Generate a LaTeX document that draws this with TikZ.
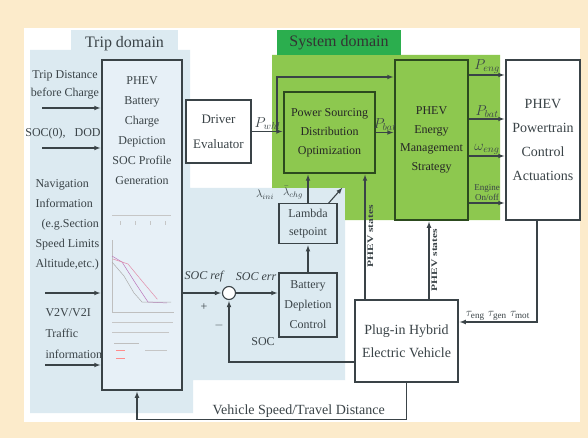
\documentclass[tikz,border=0pt]{standalone}
\usepackage{fontspec}
\setmainfont{Liberation Serif}
\usepackage{amsmath}
\usetikzlibrary{positioning, arrows}
\definecolor{bgbeige}{HTML}{FCEBCB}
\definecolor{tripblue}{HTML}{DCEAF1}
\definecolor{profblue}{HTML}{E7F0F7}
\definecolor{sysgreen}{HTML}{8DC84F}
\definecolor{tabgreen}{HTML}{2BAE4E}
\definecolor{boxline}{HTML}{3A4347}
\definecolor{gline}{HTML}{2C4A1E}

\begin{document}
\begin{tikzpicture}[x=1pt, y=-1pt, >=latex, shorten >=1pt, node distance=28pt,
  line width=1.1pt, color=boxline,
  box/.style={draw=boxline, fill=white, line width=1.3pt, align=center, inner sep=1pt},
  gbox/.style={box, draw=gline, fill=sysgreen, text=black!85},
  bbox/.style={box, fill=tripblue},
  txt/.style={align=center, inner sep=1pt, font=\fontsize{12}{20}\selectfont},
  sig/.style={inner sep=1.5pt, font=\fontsize{12}{14}\selectfont},
  sym/.style={inner sep=1pt, font=\fontsize{14}{16}\selectfont},
  tab/.style={inner sep=0pt, font=\fontsize{16}{18}\selectfont},
  states/.style={rotate=90, anchor=north, inner sep=2pt, font=\bfseries\fontsize{8.5}{10}\selectfont},
  sumpt/.style={circle, draw=boxline, fill=white, line width=1.1pt, minimum size=13pt, inner sep=0pt},
  sketch/.style={line width=0.5pt}]
  \useasboundingbox (0,0) rectangle (588,438);
  % backgrounds
  \fill[bgbeige] (0,0) rectangle (588,438);
  \fill[white] (24,28) rectangle (580,422);
  \fill[tripblue] (30,50) -- (190,50) -- (190,188) -- (345,188) -- (345,380)
    -- (193,380) -- (193,413) -- (30,413) -- cycle;
  \fill[sysgreen] (272,55) -- (500,55) -- (500,220) -- (345,220) -- (345,188)
    -- (272,188) -- cycle;
  \node[tab, fill=tripblue, minimum width=107pt, minimum height=28pt] (triptab) at (124.5,44) {Trip domain};
  \node[tab, fill=tabgreen, minimum width=124pt, minimum height=25pt, text=black!80] (systab) at (339,42.5) {System domain};

  % blocks
  \node[box, fill=profblue, minimum width=80pt, minimum height=330pt] (profile) at (142,225) {};
  \node[txt] (proftext) at (142,131) {PHEV\\Battery\\Charge\\Depiction\\SOC Profile\\Generation};
  \node[box, minimum width=65pt, minimum height=63pt, font=\fontsize{13}{25}\selectfont] (driver) at (218.5,131.5) {Driver\\Evaluator};
  \node[gbox, minimum width=91pt, minimum height=81pt, font=\fontsize{12}{19}\selectfont] (pso) at (329.5,132.5) {Power Sourcing\\Distribution\\Optimization};
  \node[gbox, minimum width=73pt, minimum height=160pt, font=\fontsize{12}{18.5}\selectfont] (ems) at (431.5,140) {PHEV\\Energy\\Management\\Strategy};
  \node[box, minimum width=74pt, minimum height=160pt, font=\fontsize{14}{24}\selectfont] (pt) at (543,140) {PHEV\\Powertrain\\Control\\Actuations};
  \node[bbox, minimum width=58pt, minimum height=64pt, font=\fontsize{12}{20}\selectfont] (bdc) at (308,305) {Battery\\Depletion\\Control};
  \node[bbox, minimum width=58pt, minimum height=40pt, font=\fontsize{12}{18}\selectfont, above=of bdc] (lambda) {Lambda\\setpoint};
  \node[box, minimum width=103pt, minimum height=82pt, font=\fontsize{14}{23}\selectfont] (plugin) at (406.5,341) {Plug-in Hybrid\\Electric Vehicle};
  \node[sumpt] (sum) at (229,293) {};

  % small SOC profile sketch inside the generator block
  \draw[sketch, gray!45] (112,215) -- (172,215);
  \foreach \x in {120,135,150,165} \draw[sketch, gray!45] (\x,221) -- (\x,226);
  \draw[sketch, gray!50] (112,240) -- (112,312) -- (175,312);
  \draw[sketch, violet!55] (112,256) -- (122,262) -- (136,284) -- (148,302) -- (168,303);
  \draw[sketch, purple!45] (113,259) -- (128,264) -- (142,281) -- (158,300);
  \draw[sketch, gray!65] (112,262) -- (124,276) -- (134,293) -- (142,302) -- (172,302);
  \draw[sketch, gray!45] (112,322) -- (174,322);
  \draw[sketch, gray!45] (112,332) -- (170,332);
  \draw[sketch, gray!50] (114,343) -- (140,343);
  \draw[sketch, red!45] (116,350) -- (126,350);
  \draw[sketch, red!45] (116,358) -- (126,358);
  \draw[sketch, gray!45] (145,350) -- (168,350);

  % inputs of the trip domain
  \node[txt, font=\fontsize{12}{18}\selectfont] (tripdist) at (65,85) {Trip Distance\\before Charge};
  \node[txt] (soczero) at (63,134) {SOC(0),\hspace{9pt}DOD};
  \node[txt, align=left, anchor=west] (navinfo) at (34,225) {Navigation\\Information\\\hspace*{6pt}(e.g.Section\\Speed Limits\\Altitude,etc.)};
  \node[txt, align=left, anchor=west, font=\fontsize{12}{21}\selectfont] (v2v) at (44,334) {V2V/V2I\\Traffic\\information};
  \coordinate (in1) at (42,108);
  \coordinate (in2) at (42,148);
  \coordinate (in3) at (45,293);
  \coordinate (in4) at (45,365);

  \path[->]
    (in1) edge (in1 -| profile.west)
    (in2) edge (in2 -| profile.west)
    (in3) edge (in3 -| profile.west)
    (in4) edge (in4 -| profile.west)
    (driver.east) edge node[above, sym] (pwhl) {$P_{whl}$} (driver.east -| pso.west)
    (pso.east) edge node[above, sym] (pbatin) {$P_{bat}$} (pso.east -| ems.west)
    (profile.east |- sum) edge (sum)
    (sum) edge (sum -| bdc.west)
    (bdc.north) edge (lambda.south)
    (lambda.north) edge (lambda.north |- pso.south)
    ([yshift=65pt]ems.east) edge node[above, sym] (peng) {$P_{eng}$} ([yshift=65pt]ems.east -| pt.west)
    ([yshift=21pt]ems.east) edge node[above, sym] (pbatout) {$P_{bat}$} ([yshift=21pt]ems.east -| pt.west)
    ([yshift=-16pt]ems.east) edge node[above, sym] (weng) {$\omega_{eng}$} ([yshift=-16pt]ems.east -| pt.west)
    ([yshift=-63pt]ems.east) edge node[above, sig, align=center, font=\fontsize{9}{10}\selectfont] (engonoff) {Engine\\On/off} ([yshift=-63pt]ems.east -| pt.west);

  % wheel power also goes to the strategy
  \coordinate (split) at (277,131.5);
  \coordinate (bend) at (277,77);
  \draw[->] (split) -- (bend) -- (bend -| ems.west);

  % SOC loop
  \node[sig] (socref) at (204,277) {\itshape SOC ref};
  \node[sig] (socerr) at (256,277) {\itshape SOC err};
  \node[sig] (plus) at (204,307) {+};
  \node[sig] (minus) at (219,325) {$-$};
  \node[sig] (soclbl) at (263,342) {SOC};
  \draw[->] ([yshift=-21pt]plugin.west) -| (sum.south);

  \node[inner sep=0.5pt, font=\fontsize{11}{12}\selectfont] (lamini) at (265,195) {$\lambda_{ini}$};
  \node[inner sep=0.5pt, font=\fontsize{11}{12}\selectfont] (lamchg) at (293,193) {$\bar{\lambda}_{chg}$};
  \coordinate (tune) at (343,187);
  \draw[->] ([xshift=-9pt]lambda.north east) -- (tune);

  % vehicle feedback
  \draw[->] ([xshift=-41.5pt]plugin.north) -- ([xshift=-41.5pt]plugin.north |- pso.south)
    node[states, pos=0.5] (st1) {\scalebox{1.35}[1]{PHEV states}};
  \draw[->] ([xshift=22.5pt]plugin.north) -- ([xshift=22.5pt]plugin.north |- ems.south)
    node[states, pos=0.5] (st2) {\scalebox{1.35}[1]{PHEV states}};
  \draw[->] ([xshift=-6pt]pt.south) |- node[pos=0.75, above, sym, font=\fontsize{13}{15}\selectfont] (torq)
    {$\tau_{\mathrm{eng}}\;\tau_{\mathrm{gen}}\;\tau_{\mathrm{mot}}$} ([yshift=19pt]plugin.east);
  \draw[->] (plugin.south) |- node[pos=0.7, above, sig, font=\fontsize{14}{16}\selectfont] (vsd)
    {Vehicle Speed/Travel Distance} ([xshift=-5pt, yshift=-29pt]profile.south)
    -- ([xshift=-5pt]profile.south);
\end{tikzpicture}
\end{document}
